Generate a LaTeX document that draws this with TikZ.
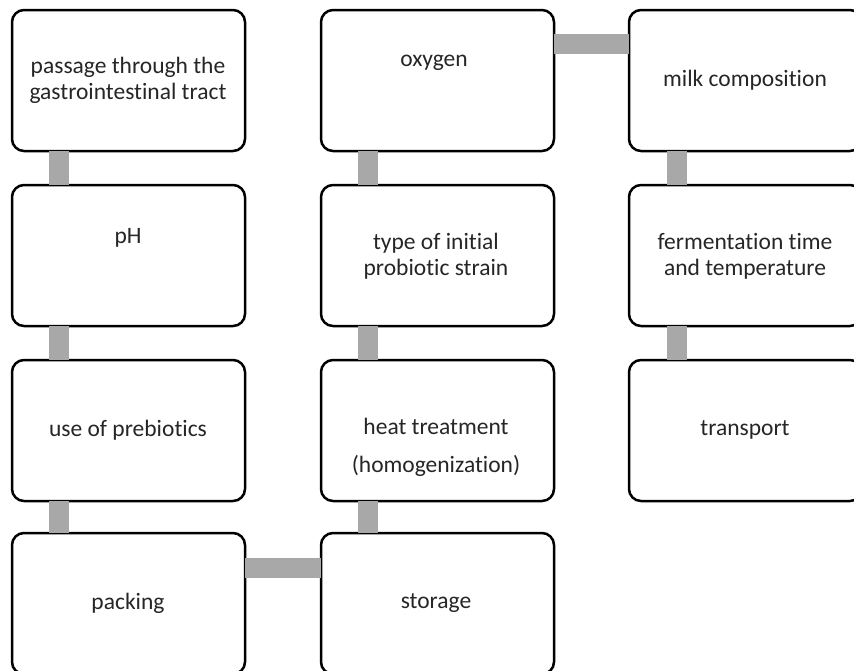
\documentclass[tikz,border=0pt]{standalone}
\usepackage{fontspec}
\setmainfont{Carlito}[Ligatures=NoCommon]
\definecolor{txtgray}{HTML}{262626}
\definecolor{conngray}{HTML}{A8A8A8}
\tikzset{
  box/.style={draw=black, line width=2.5pt, rounded corners=12pt, fill=white,
    minimum width=233pt, minimum height=141pt, inner sep=0pt, outer sep=0pt, anchor=north west},
  lbl/.style={text=txtgray, font=\fontsize{23.5}{26}\selectfont, align=center, inner sep=0pt},
  conn/.style={draw=conngray, line width=20pt}
}
\begin{document}
\begin{tikzpicture}[x=1pt,y=-1pt]
\useasboundingbox (0,0) rectangle (854,670);
% boxes
\node[box] (b11) at (12,10) {};
\node[box] (b21) at (12,185) {};
\node[box] (b31) at (12,360) {};
\node[box] (b41) at (12,533) {};
\node[box] (b12) at (321,10) {};
\node[box] (b22) at (321,185) {};
\node[box] (b32) at (321,360) {};
\node[box] (b42) at (321,533) {};
\node[box] (b13) at (629,10) {};
\node[box] (b23) at (629,185) {};
\node[box] (b33) at (629,360) {};
% connectors
\draw[conn] ([xshift=47pt]b11.south west) -- ([xshift=47pt]b21.north west);
\draw[conn] ([xshift=47pt]b21.south west) -- ([xshift=47pt]b31.north west);
\draw[conn] ([xshift=47pt]b31.south west) -- ([xshift=47pt]b41.north west);
\draw[conn] ([xshift=47pt]b12.south west) -- ([xshift=47pt]b22.north west);
\draw[conn] ([xshift=47pt]b22.south west) -- ([xshift=47pt]b32.north west);
\draw[conn] ([xshift=47pt]b32.south west) -- ([xshift=47pt]b42.north west);
\draw[conn] ([xshift=48pt]b13.south west) -- ([xshift=48pt]b23.north west);
\draw[conn] ([xshift=48pt]b23.south west) -- ([xshift=48pt]b33.north west);
\draw[conn] ([yshift=-34pt]b12.north east) -- ([yshift=-34pt]b13.north west);
\draw[conn] ([yshift=-34.5pt]b41.north east) -- ([yshift=-34.5pt]b42.north west);
% labels
\node[lbl] (t11) at (128,80) {passage through the\\gastrointestinal tract};
\node[lbl] (t12) at (434,63) {oxygen};
\node[lbl] (t13) at (745,80) {milk composition};
\node[lbl] (t21) at (128,238) {pH};
\node[lbl] (t22) at (436,256) {type of initial\\probiotic strain};
\node[lbl] (t23) at (745,256) {fermentation time\\and temperature};
\node[lbl] (t31) at (128,430) {use of prebiotics};
\node[lbl] (t32) at (436,447) {heat treatment\\[12pt](homogenization)};
\node[lbl] (t33) at (745,430) {transport};
\node[lbl] (t41) at (128,603) {packing};
\node[lbl] (t42) at (436,603) {storage};
\end{tikzpicture}
\end{document}
